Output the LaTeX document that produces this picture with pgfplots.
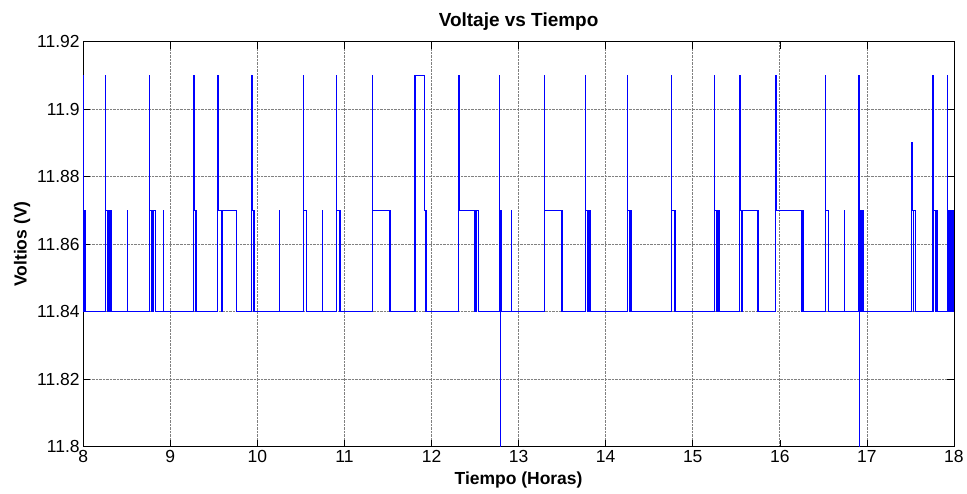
\documentclass[border=0pt]{standalone}
\usepackage{pgfplots}
\pgfplotsset{compat=1.18}
\usetikzlibrary{backgrounds}
\usepackage{fontspec}
\setmainfont{Liberation Sans}
\begin{document}
\begin{tikzpicture}[show background rectangle, inner frame sep=0pt, background rectangle/.style={fill=white, draw=none}]
\begin{axis}[
  scale only axis, width=871.7pt, height=405.3pt,
  xmin=8, xmax=18, ymin=11.8, ymax=11.92,
  xtick={8,9,10,11,12,13,14,15,16,17,18},
  ytick={11.8,11.82,11.84,11.86,11.88,11.9,11.92},
  yticklabels={11.8,11.82,11.84,11.86,11.88,11.9,11.92},
  /pgf/number format/assume math mode=true,
  tick label style={font=\fontsize{17.5}{20}\selectfont},
  title={\bfseries Voltaje vs Tiempo},
  title style={font=\fontsize{19}{22}\selectfont, yshift=2pt},
  xlabel={\bfseries Tiempo (Horas)},
  ylabel={\bfseries Voltios (V)},
  xlabel style={yshift=-3pt},
  label style={font=\fontsize{17.5}{20}\selectfont},
  grid=major,
  grid style={densely dotted, black!50, line width=0.7pt},
  tick align=inside,
  major tick length=7pt,
  axis line style={line width=0.9pt},
  every tick/.style={black, line width=0.6pt},
  axis background/.style={fill=white},
]
\addplot[const plot, color={rgb,255:red,0;green,0;blue,255}, line width=1.1pt] coordinates {
(8.000,11.91)(8.004,11.87)(8.008,11.84)(8.012,11.87)(8.030,11.84)
(8.255,11.91)(8.258,11.87)(8.280,11.84)(8.284,11.87)(8.290,11.84)(8.295,11.87)(8.300,11.84)(8.305,11.87)(8.312,11.84)(8.316,11.87)(8.322,11.84)(8.326,11.87)(8.330,11.84)
(8.505,11.87)(8.507,11.84)
(8.757,11.91)(8.760,11.87)(8.790,11.84)(8.795,11.87)(8.805,11.84)(8.810,11.87)(8.826,11.84)
(8.918,11.87)(8.920,11.84)
(9.270,11.91)(9.273,11.87)(9.290,11.84)(9.293,11.87)(9.306,11.84)
(9.545,11.91)(9.548,11.87)(9.590,11.84)(9.594,11.87)(9.760,11.84)
(9.935,11.91)(9.938,11.87)(9.955,11.84)(9.958,11.87)(9.966,11.84)
(10.250,11.87)(10.252,11.84)
(10.532,11.91)(10.535,11.87)(10.563,11.84)
(10.746,11.87)(10.748,11.84)
(10.907,11.91)(10.910,11.87)(10.945,11.84)(10.948,11.87)(10.960,11.84)
(11.320,11.91)(11.323,11.87)(11.520,11.84)(11.522,11.87)(11.526,11.84)
(11.810,11.91)(11.916,11.87)(11.930,11.84)(11.933,11.87)(11.938,11.84)(11.941,11.87)(11.946,11.84)
(12.313,11.91)(12.316,11.87)(12.500,11.84)(12.505,11.87)(12.515,11.84)(12.520,11.87)(12.536,11.84)
(12.780,11.91)(12.783,11.87)(12.788,11.79)(12.790,11.87)(12.795,11.84)(12.798,11.87)(12.804,11.84)
(12.918,11.87)(12.920,11.84)
(13.293,11.91)(13.296,11.87)(13.490,11.84)(13.494,11.87)(13.500,11.84)(13.503,11.87)(13.507,11.84)
(13.767,11.91)(13.770,11.87)(13.795,11.84)(13.800,11.87)(13.810,11.84)(13.814,11.87)(13.820,11.84)
(14.249,11.91)(14.252,11.87)(14.275,11.84)(14.280,11.87)(14.290,11.84)(14.294,11.87)(14.300,11.84)
(14.754,11.91)(14.757,11.87)(14.790,11.84)(14.793,11.87)(14.800,11.84)
(15.245,11.91)(15.248,11.87)(15.270,11.84)(15.275,11.87)(15.290,11.84)(15.294,11.87)(15.304,11.84)
(15.541,11.91)(15.544,11.87)(15.555,11.84)(15.558,11.87)(15.565,11.84)(15.568,11.87)(15.750,11.84)(15.752,11.87)(15.755,11.84)
(15.954,11.91)(15.957,11.87)(16.250,11.84)(16.255,11.87)(16.265,11.84)(16.270,11.87)(16.276,11.84)
(16.520,11.91)(16.523,11.87)(16.558,11.84)
(16.742,11.87)(16.744,11.84)
(16.910,11.91)(16.912,11.79)(16.915,11.87)(16.930,11.84)(16.935,11.87)(16.945,11.84)(16.950,11.87)(16.964,11.84)
(17.510,11.88)(17.515,11.89)(17.518,11.87)(17.535,11.84)(17.540,11.87)(17.554,11.84)
(17.759,11.91)(17.762,11.87)(17.785,11.84)(17.790,11.87)(17.800,11.84)(17.804,11.87)(17.810,11.84)
(17.925,11.91)(17.928,11.89)(17.930,11.86)(17.935,11.87)(17.940,11.84)(17.945,11.87)(17.950,11.84)(17.955,11.87)(17.960,11.84)(17.965,11.87)(17.975,11.84)(17.980,11.87)(17.990,11.84)(18.000,11.84)
};
\end{axis}
\path (current axis.south west) ++(-83.3pt,-47pt) coordinate (bbA);
\path (current axis.north east) ++(12pt,41.7pt) coordinate (bbB);
\useasboundingbox (bbA) rectangle (bbB);
\end{tikzpicture}
\end{document}
